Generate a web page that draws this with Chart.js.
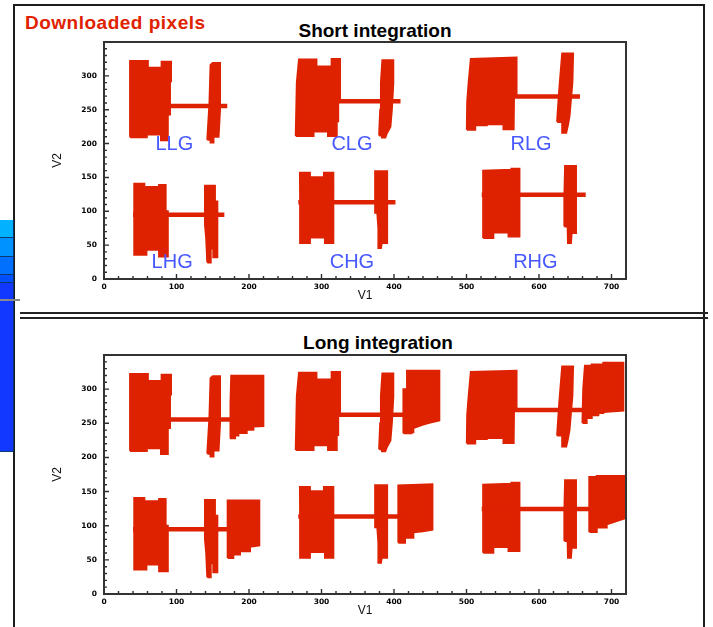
<!DOCTYPE html>
<html>
<head>
<meta charset="utf-8">
<script src="https://cdn.jsdelivr.net/npm/chart.js@4.4.1/dist/chart.umd.min.js"></script>
<style>
  html, body { margin: 0; padding: 0; background: #fff; }
  body { width: 713px; height: 627px; position: relative; overflow: hidden;
         font-family: "Liberation Sans", Arial, sans-serif; }
  .abs { position: absolute; }
  #frame { left: 13px; top: 4px; width: 692px; height: 700px; box-sizing: border-box;
           border: 2px solid #1c1c1c; }
  .rule { background: #222; height: 2px; left: 20px; width: 688px; }
  .tab { left: 0; width: 14px; box-sizing: border-box; border-right: 1px solid #0b2f66;
         border-bottom: 1px solid #0b3a70; }
  .heading { font-weight: bold; font-size: 19px; line-height: 22px; white-space: nowrap; }
  canvas { position: absolute; left: 0; }
</style>
</head>
<body>
<div id="frame" class="abs"></div>
<div class="abs rule" style="top:312px"></div>
<div class="abs rule" style="top:317px"></div>

<div class="abs tab" style="top:220px;height:18px;background:#00b2ff"></div>
<div class="abs tab" style="top:238px;height:19px;background:#0092ff"></div>
<div class="abs tab" style="top:257px;height:18px;background:#0070ff"></div>
<div class="abs tab" style="top:275px;height:8px;background:#0050ff"></div>
<div class="abs tab" style="top:283px;height:169px;background:#1238ff"></div>
<div class="abs" style="left:0;top:299px;width:20px;height:1.5px;background:#8a8a8a"></div>

<div class="abs heading" style="left:25px;top:11.7px;color:#e02200;letter-spacing:0.5px">Downloaded pixels</div>
<div class="abs heading" style="left:175px;top:19.7px;width:400px;text-align:center;color:#000">Short integration</div>
<div class="abs heading" style="left:178px;top:331.7px;width:400px;text-align:center;color:#000">Long integration</div>

<canvas id="shortChart" width="713" height="310" style="top:0"></canvas>
<canvas id="longChart" width="713" height="312" style="top:315px"></canvas>

<script>
// Detector groups and where their names sit (V1, V2)
const GROUPS = ['LLG', 'CLG', 'RLG', 'LHG', 'CHG', 'RHG'];
const LABEL_V1 = [97, 342, 589, 94, 342, 595];
const LABEL_V2 = [198, 198, 198, 24, 24, 24];

const X_TICKS = [0, 100, 200, 300, 400, 500, 600, 700];
const Y_TICKS = [0, 50, 100, 150, 200, 250, 300];

// Readout track of each group: its V2 level and V1 span
const TRACK_V2 = [255.5, 262.5, 269.5, 94.8, 113.5, 124.3];
const TRACK_SHORT = [[88, 170], [323, 409], [565, 656.5], [40, 166], [268, 402], [521, 664.4]];
const TRACK_LONG = [[88, 178], [323, 418], [565, 662], [40, 172], [268, 410], [521, 672]];

// Outlines [V1, V2] of the pixel blocks read out in each group
const LLG_SHORT = [
  [[36,209.5],[36,322],[60.5,322],[60.5,312],[79.5,312],[79.5,321],[92.4,321],[92.4,292],[91,292],[91,243],[88,243],[88,205],[78.6,205],[78.6,213.5],[59,213.5],[59,209.5]],
  [[142.5,205.5],[145.5,260],[147,316],[150,319],[160,319],[160,250],[158,210],[151,210],[151,201.5],[147,201.5],[147,205.5]]
];
const CLG_SHORT = [
  [[264.5,211],[266,290],[269,324],[293,324],[293,314],[314,314],[314,325],[325.5,325],[325.5,262],[323,262],[323,233],[321,233],[321,211],[309,211],[309,218],[289,218],[289,211]],
  [[379.5,212],[381,250],[382,290],[384,323],[399,323],[399,289],[397,250],[395,225],[390,215],[388,209],[383.5,209],[383.5,212]]
];
const RLG_SHORT = [
  [[500.5,220.5],[501,262],[503,290],[506,325],[569,327],[569,269],[565.5,269],[565,221],[551,221],[551,228.5],[528,228.5],[528,227],[512,227],[512,220.5]],
  [[625,232],[628,280],[632,333],[647,333],[646,290],[642,240],[640,228],[637.5,216],[633,216],[632,232]]
];
const LHG_SHORT = [
  [[42,35.8],[41.5,100],[42,140.6],[55.6,140.6],[55.6,135.7],[76,135.7],[76,139],[85,139],[85,100],[88,100],[88,33.3],[76,33.3],[76,43.2],[58.5,43.2],[58.5,35.8]],
  [[142.5,24.5],[141,60],[139.3,80],[139.3,137.6],[153,137.6],[153,114.5],[156.3,114.5],[156.3,32],[150.8,32],[150.8,45],[147.2,45],[147.2,24.5]]
];
const CHG_SHORT = [
  [[271.5,53.1],[270.5,120],[270.3,156.8],[284,156.8],[284,150.4],[303.4,150.4],[303.4,156.8],[316.3,156.8],[316.3,53.1],[304.8,53.1],[304.8,61.4],[284,61.4],[284,53.1]],
  [[375,97.8],[374,159.3],[390.5,159.3],[390.5,53],[383,53],[382,45.7],[379,45.7],[378.5,75],[377,97.8]]
];
const RHG_SHORT = [
  [[523,60.5],[523,160],[562,161.5],[562,163],[573,163],[573,62.8],[558,62.8],[558,68.8],[537,68.8],[537,60.5]],
  [[635,77.6],[635,120],[636,166.7],[651,166.7],[651,67.8],[645,67.8],[644,53],[640,53],[639.5,77.6]]
];

// Extra blocks collected only with the long integration
const LLG_LONG = [
  [[173.8,228],[174.5,280],[175.5,319.5],[219.8,319.5],[219.8,246],[206,245.4],[206,240.5],[196.8,240.5],[196.8,235.6],[185.3,235.6],[185.3,232],[180.7,232],[180.7,228]]
];
const CLG_LONG = [
  [[413,235.5],[413,300],[418,300],[418,327],[462.5,327],[462.5,254],[450,251],[440,248],[426.7,243],[426.7,237],[424,237],[424,235.5]]
];
const RLG_LONG = [
  [[660,250.4],[661,300],[663.4,334.3],[672.7,334.3],[672.7,336],[688.7,336],[688.7,338.5],[716.3,338.5],[716.3,268.6],[688.7,266.7],[688.7,265.2],[681.8,265.2],[681.8,261.7],[672.7,261.7],[672.7,257.8],[665.7,257.8],[665.7,250.4]]
];
const LHG_LONG = [
  [[170.6,52.9],[170.6,137],[214.2,137],[214.2,71.1],[201.4,69.1],[201.4,62.7],[187.6,62.7],[187.6,57.8],[178.3,57.8],[178.3,52.9]]
];
const CHG_LONG = [
  [[406,75],[406,159],[453,160.5],[453,94.4],[440,92],[426.7,90.4],[426.7,82.5],[415.2,82.5],[415.2,75]]
];
const RHG_LONG = [
  [[669.4,90.9],[669.4,171.4],[679.6,171.4],[679.6,172.8],[722,172.8],[722,112],[693.4,102],[693.4,97.3],[679.6,97.3],[679.6,90.9]]
];

// Unread columns inside the blocks: [V1, V2 from, V2 to]
const GAPS_SHORT = [
  [43.5,236,290],[53,252,292],
  [275,230,310],[284,262,318],
  [511.7,243,311],[517.7,232,292],[523,262,311],
  [46.5,107,136],[48.8,36,58],
  [275,95,146],
  [629.5,228,262]
];
const GAPS_LONG = [
  [185.3,243,272],[196,258,287],
  [432,258,302],
  [672.7,264,322],[686.5,274,317],
  [179.8,78,136],[190.8,102,136],
  [411,100,158],
  [681.8,98,166],[693.3,105,152]
];

const SHORT_BLOCKS = [LLG_SHORT, CLG_SHORT, RLG_SHORT, LHG_SHORT, CHG_SHORT, RHG_SHORT];
const LONG_BLOCKS = [LLG_LONG, CLG_LONG, RLG_LONG, LHG_LONG, CHG_LONG, RHG_LONG];

const RED = '#de2200';
const LABEL_BLUE = '#4858ff';
const TICK_FONT = { family: 'DejaVu Sans', size: 7.5, weight: 'bold' };
const TITLE_FONT = { family: 'Liberation Sans', size: 12 };

function closedOutline(pts) {
  const d = pts.map(([x, y]) => ({ x, y }));
  d.push({ x: pts[0][0], y: pts[0][1] });
  return d;
}

function buildDatasets(blockSets, tracks, gaps) {
  const ds = [];
  GROUPS.forEach((g, i) => {
    const [a, b] = tracks[i];
    ds.push({ label: g + ' track', data: [{ x: a, y: TRACK_V2[i] }, { x: b, y: TRACK_V2[i] }],
      showLine: true, borderColor: RED, borderWidth: 4.5, pointRadius: 0, fill: false,
      borderCapStyle: 'butt', clip: 0 });
  });
  blockSets.forEach((blocks, i) => blocks.forEach(pts => {
    ds.push({ label: GROUPS[i], data: closedOutline(pts), showLine: true, fill: 'shape',
      backgroundColor: RED, borderColor: RED, borderWidth: 2, pointRadius: 0,
      borderJoinStyle: 'miter', clip: 0 });
  }));
  gaps.forEach(([x, y0, y1]) => {
    ds.push({ data: [{ x, y: y0 }, { x, y: y1 }], showLine: true, borderColor: '#ffffff',
      borderWidth: 1.6, pointRadius: 0, fill: false, clip: 0 });
  });
  return ds;
}

// Plot frame, inward tick marks and group names
const frameAndTicks = {
  id: 'frameAndTicks',
  afterDatasetsDraw(chart, args, opts) {
    const { ctx, chartArea: a, scales: { x, y } } = chart;
    ctx.save();
    ctx.strokeStyle = '#2e2e2e';
    ctx.lineWidth = 1.4;
    ctx.beginPath();
    for (let v = 0; v <= 720; v += 20) {
      const px = x.getPixelForValue(v);
      const len = v % 100 === 0 ? 5 : 3;
      ctx.moveTo(px, a.bottom); ctx.lineTo(px, a.bottom - len);
    }
    for (let v = 0; v <= 350; v += 10) {
      const py = y.getPixelForValue(v);
      const len = v % 50 === 0 ? 5 : 3;
      ctx.moveTo(a.left, py); ctx.lineTo(a.left + len, py);
    }
    ctx.stroke();
    ctx.lineWidth = 2;
    ctx.strokeStyle = '#333';
    ctx.strokeRect(a.left, a.top, a.right - a.left, a.bottom - a.top);
    if (opts && opts.labels) {
      ctx.font = '20px "Liberation Sans", Arial, sans-serif';
      ctx.fillStyle = LABEL_BLUE;
      ctx.textAlign = 'center';
      ctx.textBaseline = 'middle';
      GROUPS.forEach((g, i) => {
        ctx.fillText(g, x.getPixelForValue(LABEL_V1[i]), y.getPixelForValue(LABEL_V2[i]));
      });
    }
    ctx.restore();
  }
};

function makeChart(id, datasets, pad, labels) {
  return new Chart(document.getElementById(id), {
    type: 'scatter',
    data: { datasets },
    plugins: [frameAndTicks],
    options: {
      responsive: false,
      animation: false,
      events: [],
      layout: { padding: pad },
      plugins: { legend: { display: false }, tooltip: { enabled: false }, frameAndTicks: { labels } },
      scales: {
        x: {
          type: 'linear', min: 0, max: 720,
          afterBuildTicks: s => { s.ticks = X_TICKS.map(v => ({ value: v })); },
          afterFit: s => { s.height = 25; },
          grid: { display: false, drawTicks: false },
          border: { display: false },
          ticks: { font: TICK_FONT, color: '#000', padding: 3.5, maxRotation: 0, autoSkip: false },
          title: { display: true, text: 'V1', font: TITLE_FONT, color: '#111', padding: { top: 0, bottom: 1 } }
        },
        y: {
          type: 'linear', min: 0, max: 350,
          afterBuildTicks: s => { s.ticks = Y_TICKS.map(v => ({ value: v })); },
          afterFit: s => { s.width = 64; },
          grid: { display: false, drawTicks: false },
          border: { display: false },
          ticks: { font: TICK_FONT, color: '#000', padding: 7, autoSkip: false },
          title: { display: true, text: 'V2', font: TITLE_FONT, color: '#111', padding: { top: 10.3, bottom: 0 } }
        }
      }
    }
  });
}

makeChart('shortChart', buildDatasets(SHORT_BLOCKS, TRACK_SHORT, GAPS_SHORT),
  { left: 40, top: 42, right: 87, bottom: 6 }, true);
makeChart('longChart',
  buildDatasets(SHORT_BLOCKS.map((b, i) => b.concat(LONG_BLOCKS[i])), TRACK_LONG, GAPS_SHORT.concat(GAPS_LONG)),
  { left: 40, top: 40, right: 87, bottom: 8 }, false);
</script>
</body>
</html>
